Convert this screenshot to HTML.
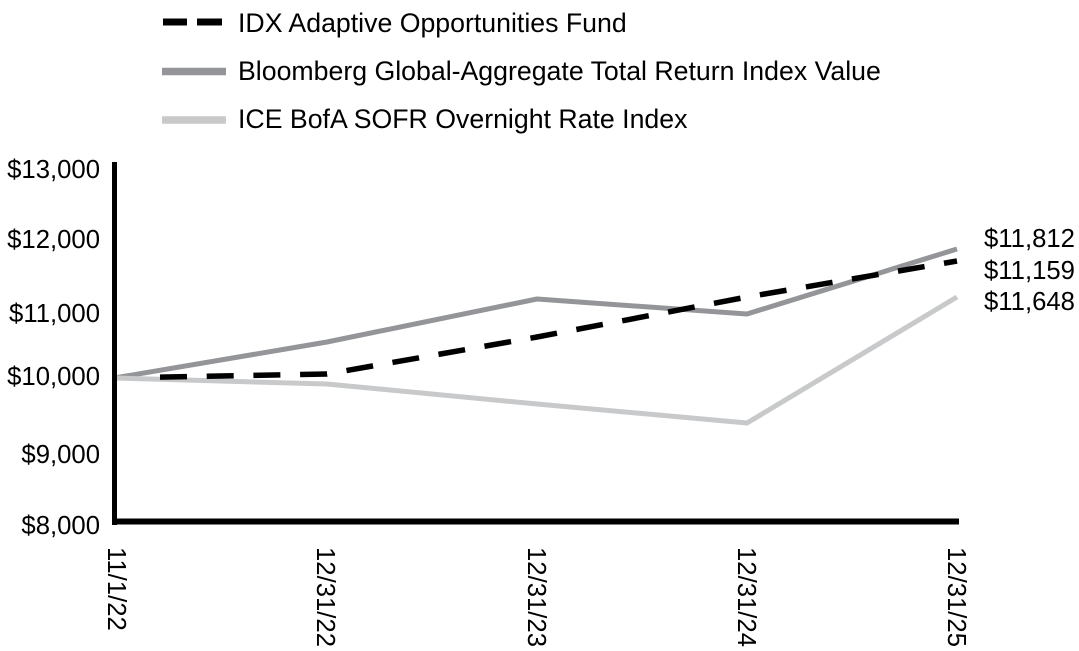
<!DOCTYPE html>
<html>
<head>
<meta charset="utf-8">
<style>
  html, body { margin: 0; padding: 0; background: #ffffff; }
  body { width: 1079px; height: 651px; overflow: hidden; }
  svg { display: block; }
  text { font-family: "Liberation Sans", Arial, sans-serif; fill: #000; }
</style>
</head>
<body>
<svg width="1079" height="651" viewBox="0 0 1079 651" xmlns="http://www.w3.org/2000/svg">
  <!-- Legend -->
  <line x1="163" y1="22" x2="187" y2="22" stroke="#000" stroke-width="7"/>
  <line x1="197" y1="22" x2="222" y2="22" stroke="#000" stroke-width="7"/>
  <line x1="162" y1="71.5" x2="226" y2="71.5" stroke="#939598" stroke-width="7.5"/>
  <line x1="162" y1="120" x2="226" y2="120" stroke="#c8c9ca" stroke-width="7.5"/>
  <text x="238" y="32" font-size="26.7">IDX Adaptive Opportunities Fund</text>
  <text x="238" y="80" font-size="26.7">Bloomberg Global-Aggregate Total Return Index Value</text>
  <text x="238" y="128" font-size="26.7">ICE BofA SOFR Overnight Rate Index</text>

  <!-- Y axis labels -->
  <g font-size="25.7" text-anchor="end">
    <text x="100" y="178">$13,000</text>
    <text x="100" y="248">$12,000</text>
    <text x="100" y="322">$11,000</text>
    <text x="100" y="385">$10,000</text>
    <text x="100" y="463">$9,000</text>
    <text x="100" y="534">$8,000</text>
  </g>

  <!-- Series -->
  <polyline points="114.5,378 327,342 537,299 747,314 957,249" fill="none" stroke="#939598" stroke-width="5" stroke-linejoin="round"/>
  <polyline points="114.5,378 327,384 537,404 747,423 957,297" fill="none" stroke="#c8c9ca" stroke-width="5" stroke-linejoin="round"/>
  <polyline points="160,377.1 327,374 537,337 747,297 957,261" fill="none" stroke="#000" stroke-width="5.5" stroke-dasharray="27 19.7" stroke-linejoin="round"/>

  <!-- Axes -->
  <line x1="114.5" y1="162" x2="114.5" y2="525" stroke="#000" stroke-width="5"/>
  <line x1="112" y1="521.5" x2="959" y2="521.5" stroke="#000" stroke-width="6"/>

  <!-- End value labels -->
  <g font-size="25.7">
    <text x="984" y="247">$11,812</text>
    <text x="984" y="279">$11,159</text>
    <text x="984" y="310">$11,648</text>
  </g>

  <!-- X axis labels (rotated) -->
  <g font-size="25.7">
    <text transform="translate(108,547) rotate(90)">11/1/22</text>
    <text transform="translate(317,547) rotate(90)">12/31/22</text>
    <text transform="translate(528,547) rotate(90)">12/31/23</text>
    <text transform="translate(738,547) rotate(90)">12/31/24</text>
    <text transform="translate(948,547) rotate(90)">12/31/25</text>
  </g>
</svg>
</body>
</html>
